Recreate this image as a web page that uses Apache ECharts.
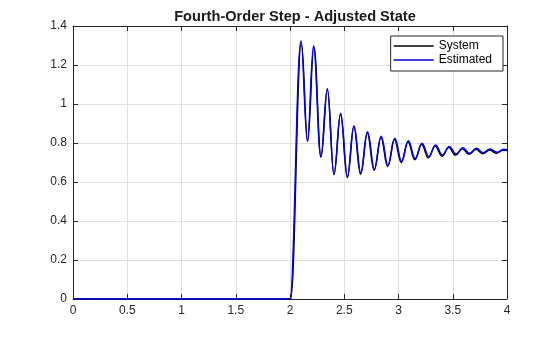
<!DOCTYPE html>
<html>
<head>
<meta charset="utf-8">
<script src="https://cdn.jsdelivr.net/npm/echarts@6/dist/echarts.min.js"></script>
<style>html,body{margin:0;padding:0;background:#fff}#c{width:560px;height:337px}</style>
</head>
<body>
<div id="c"></div>
<script>
// Estimated (blue) curve: key points (start, rise, peaks and troughs)
var estX = [0, 2.0, 2.101, 2.160, 2.217, 2.284, 2.344, 2.405, 2.467, 2.530, 2.590, 2.653, 2.715, 2.778, 2.841, 2.903, 2.966, 3.029, 3.091, 3.154, 3.217, 3.279, 3.342, 3.405, 3.467, 3.530, 3.593, 3.655, 3.718, 3.780, 3.843, 3.906, 3.969, 4.0];
var estY = [0, 0, 1.325, 0.810, 1.299, 0.730, 1.080, 0.641, 0.952, 0.627, 0.889, 0.645, 0.858, 0.665, 0.835, 0.685, 0.824, 0.706, 0.812, 0.720, 0.799, 0.730, 0.790, 0.738, 0.782, 0.744, 0.776, 0.747, 0.773, 0.750, 0.769, 0.752, 0.768, 0.765];
// System (black) curve
var sysX = [0, 2.006, 2.104, 2.163, 2.220, 2.286, 2.345, 2.405, 2.466, 2.528, 2.588, 2.650, 2.712, 2.775, 2.838, 2.900, 2.962, 3.025, 3.087, 3.150, 3.213, 3.275, 3.338, 3.401, 3.463, 3.526, 3.589, 3.651, 3.714, 3.776, 3.839, 3.902, 3.965, 4.0];
var sysY = [0, 0, 1.318, 0.808, 1.292, 0.727, 1.075, 0.637, 0.947, 0.622, 0.884, 0.640, 0.853, 0.660, 0.830, 0.680, 0.819, 0.700, 0.807, 0.714, 0.794, 0.724, 0.785, 0.732, 0.777, 0.738, 0.771, 0.742, 0.768, 0.745, 0.764, 0.747, 0.763, 0.761];
var xTicks = [0, 0.5, 1, 1.5, 2, 2.5, 3, 3.5, 4];
var yTicks = [0, 0.2, 0.4, 0.6, 0.8, 1, 1.2, 1.4];
var seriesNames = ['System', 'Estimated'];
var titleText = 'Fourth-Order Step - Adjusted State';

function pairs(xs, ys) { return xs.map(function (x, i) { return [x, ys[i]]; }); }

var FONT = '"Liberation Sans", Arial, Helvetica, sans-serif';
var AX = '#262626';
var GRID = '#e0e0e0';

var chart = echarts.init(document.getElementById('c'), null, {renderer: 'canvas'});
function xAx(pos, show) {
  return {
    type: 'value', position: pos, min: xTicks[0], max: xTicks[xTicks.length - 1],
    interval: xTicks[1] - xTicks[0],
    axisLine: {show: true, onZero: false, lineStyle: {color: AX, width: 1}},
    axisTick: {show: true, inside: true, length: 5, lineStyle: {color: AX}},
    axisLabel: {show: show, margin: 6, color: AX, fontFamily: FONT, fontSize: 12},
    splitLine: {show: show, lineStyle: {color: GRID, width: 1}}
  };
}
function yAx(pos, show) {
  return {
    type: 'value', position: pos, min: yTicks[0], max: yTicks[yTicks.length - 1],
    interval: yTicks[1] - yTicks[0],
    axisLine: {show: true, onZero: false, lineStyle: {color: AX, width: 1}},
    axisTick: {show: true, inside: true, length: 5, lineStyle: {color: AX}},
    axisLabel: {show: show, margin: 6, color: AX, fontFamily: FONT, fontSize: 12,
      formatter: function (v) { return String(Math.round(v * 10) / 10); }},
    splitLine: {show: show, lineStyle: {color: GRID, width: 1}}
  };
}
chart.setOption({
  animation: false,
  backgroundColor: '#fff',
  title: {
    text: titleText, left: 290, top: 4, textAlign: 'center',
    textStyle: {fontFamily: FONT, fontSize: 14.6, fontWeight: 'bold', color: '#1a1a1a'}
  },
  grid: {left: 73, right: 53, top: 26, bottom: 38, containLabel: false},
  legend: {
    data: seriesNames.map(function (n) { return {name: n, icon: 'rect'}; }),
    orient: 'vertical', right: 57, top: 36,
    backgroundColor: '#fff', borderColor: '#262626', borderWidth: 1, borderRadius: 0,
    padding: [3, 11, 4, 3], itemGap: 0, itemWidth: 40, itemHeight: 1.5, itemTextGap: 3,
    textStyle: {fontFamily: FONT, fontSize: 12, color: '#000', lineHeight: 14}
  },
  xAxis: [xAx('bottom', true), xAx('top', false)],
  yAxis: [yAx('left', true), yAx('right', false)],
  series: [
    {name: seriesNames[0], type: 'line', data: pairs(sysX, sysY), symbol: 'none', showSymbol: false,
     smooth: 0.4, smoothMonotone: 'x', lineStyle: {color: '#000', width: 1.5}, itemStyle: {color: '#000'}, z: 2},
    {name: seriesNames[1], type: 'line', data: pairs(estX, estY), symbol: 'none', showSymbol: false,
     smooth: 0.4, smoothMonotone: 'x', lineStyle: {color: '#0000ff', width: 1.5}, itemStyle: {color: '#0000cc'}, z: 3}
  ]
});
</script>
</body>
</html>
